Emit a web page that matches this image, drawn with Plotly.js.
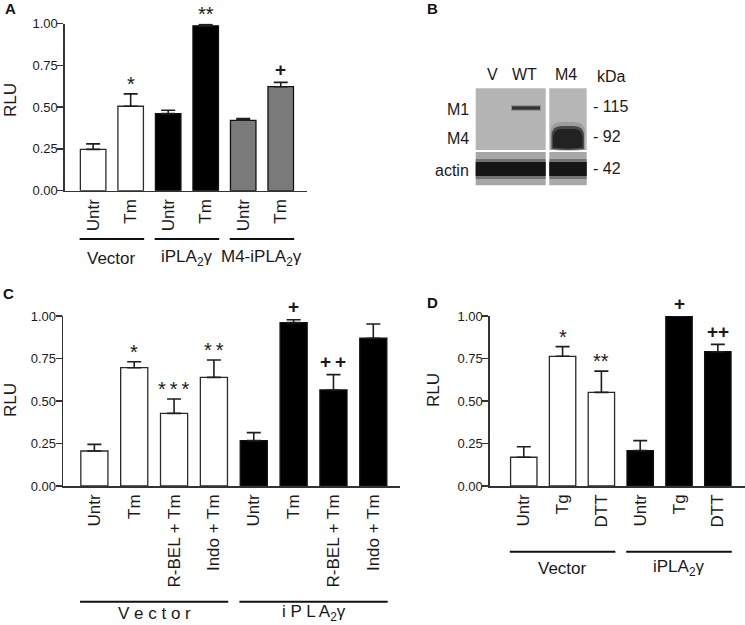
<!DOCTYPE html>
<html><head><meta charset="utf-8">
<script src="https://cdn.plot.ly/plotly-3.0.1.min.js"></script>
<style>html,body{margin:0;padding:0;background:#fff}</style>
</head><body><div id="chart" style="width:745px;height:625px"></div>
<script>
// ---------- data ----------
const A_labels = ['Untr','Tm','Untr','Tm','Untr','Tm'];
const A_values = [0.247, 0.505, 0.461, 0.986, 0.421, 0.622];
const A_sem    = [0.033, 0.074, 0.020, 0.008, 0.010, 0.026];
const A_sig    = ['', '*', '', '**', '', '+'];
const A_fill   = ['#ffffff','#ffffff','#000000','#000000','#7a7a7a','#7a7a7a'];
const A_groups = ['Vector','iPLA<sub>2</sub>γ','M4-iPLA<sub>2</sub>γ'];

const C_labels = ['Untr','Tm','R-BEL + Tm','Indo + Tm','Untr','Tm','R-BEL + Tm','Indo + Tm'];
const C_values = [0.206, 0.696, 0.427, 0.639, 0.267, 0.961, 0.565, 0.869];
const C_sem    = [0.039, 0.035, 0.085, 0.102, 0.047, 0.017, 0.090, 0.084];
const C_sig    = ['', '*', '*\u2009*\u2009*', '*\u2009*', '', '+', '+\u2009+', ''];
const C_fill   = ['#ffffff','#ffffff','#ffffff','#ffffff','#000000','#000000','#000000','#000000'];
const C_groups = ['V e c t o r','i P L A<sub>2</sub>γ'];

const D_labels = ['Untr','Tg','DTT','Untr','Tg','DTT'];
const D_values = [0.169, 0.763, 0.551, 0.208, 1.000, 0.790];
const D_sem    = [0.062, 0.057, 0.125, 0.059, 0.000, 0.043];
const D_sig    = ['', '*', '**', '', '+', '++'];
const D_fill   = ['#ffffff','#ffffff','#ffffff','#000000','#000000','#000000'];
const D_groups = ['Vector','iPLA<sub>2</sub>γ'];

const yTickVals = [0, 0.25, 0.5, 0.75, 1.0];
const yTickText = ['0.00','0.25','0.50','0.75','1.00'];

const blotLanes = ['V','WT','M4'];
const blotRows = ['M1','M4','actin'];
const blotMarkers = ['- 115','- 92','- 42'];

// ---------- helpers ----------
const W = 745, H = 625;
const px = x => x / W;
const py = y => 1 - y / H;
const TXT = '#1a1a1a', AX = '#333333';
const FONT = 'Liberation Sans, Arial, sans-serif';

function barTrace(labels, values, sem, fill, xa, ya) {
  const idx = labels.map((_, i) => i);
  return {
    type: 'bar', x: idx, y: values, xaxis: xa, yaxis: ya, width: 0.68,
    marker: {color: fill, line: {color: fill.map(c => c === '#ffffff' ? '#2b2b2b' : '#111'), width: 1.3}},
    error_y: {type: 'data', symmetric: false, array: sem, arrayminus: sem.map(() => 0),
              color: '#1e1e1e', thickness: 1.6, width: 7},
    showlegend: false, hoverinfo: 'skip'
  };
}

function xAxis(domain, labels, range, anchor) {
  return {domain: domain, range: range, anchor: anchor, showline: true, linecolor: AX, linewidth: 1.6,
    ticks: '', showgrid: false, zeroline: false, tickangle: -90,
    tickvals: labels.map((_, i) => i), ticktext: labels,
    tickfont: {family: FONT, size: 17, color: TXT}, fixedrange: true};
}
function yAxis(domain, anchor) {
  return {domain: domain, anchor: anchor, range: [0, 1], showline: true, linecolor: AX, linewidth: 1.6,
    ticks: 'outside', ticklen: 6, tickwidth: 1.5, tickcolor: AX, showgrid: false, zeroline: false,
    ticklabelstandoff: -3,
    tickvals: yTickVals, ticktext: yTickText, tickfont: {family: FONT, size: 13, color: TXT}, fixedrange: true};
}

const traces = [
  barTrace(A_labels, A_values, A_sem, A_fill, 'x', 'y'),
  barTrace(C_labels, C_values, C_sem, C_fill, 'x2', 'y2'),
  barTrace(D_labels, D_values, D_sem, D_fill, 'x3', 'y3')
];

const annotations = [];
const shapes = [];

function sigAnn(sig, values, sem, xa, ya) {
  sig.forEach((s, i) => {
    if (!s) return;
    const star = s.indexOf('*') >= 0;
    annotations.push({xref: xa, yref: ya, x: i, y: values[i] + sem[i], text: star ? s : '<b>' + s + '</b>',
      showarrow: false, yanchor: 'middle', yshift: star ? 10 : 13,
      font: {family: FONT, size: star ? 20 : 19, color: TXT}});
  });
}
sigAnn(A_sig, A_values, A_sem, 'x', 'y');
sigAnn(C_sig, C_values, C_sem, 'x2', 'y2');
sigAnn(D_sig, D_values, D_sem, 'x3', 'y3');

function groupLines(groups, size, xa, lineY, labelY) {
  groups.forEach((g, k) => {
    const a = k * size, b = a + size - 1;
    shapes.push({type: 'line', xref: xa, yref: 'paper', x0: a - 0.36, x1: b + 0.36,
      y0: py(lineY), y1: py(lineY), line: {color: '#111', width: 2}});
    annotations.push({xref: xa, yref: 'paper', x: (a + b) / 2, y: py(labelY), text: g,
      showarrow: false, yanchor: 'middle', font: {family: FONT, size: 17, color: TXT}});
  });
}
groupLines(A_groups, 2, 'x', 239, 258);
groupLines(C_groups, 4, 'x2', 601.7, 613);
groupLines(D_groups, 3, 'x3', 551.7, 568);

// y titles
[[10, 100], [10, 400], [433, 390]].forEach(p => {
  annotations.push({xref: 'paper', yref: 'paper', x: px(p[0]), y: py(p[1]), text: 'RLU',
    textangle: -90, showarrow: false, xanchor: 'center', yanchor: 'middle',
    font: {family: FONT, size: 17, color: TXT}});
});
// panel letters
[['A', 10, 9], ['B', 432, 9], ['C', 8, 294], ['D', 432, 302]].forEach(p => {
  annotations.push({xref: 'paper', yref: 'paper', x: px(p[1]), y: py(p[2]), text: '<b>' + p[0] + '</b>',
    showarrow: false, xanchor: 'center', yanchor: 'middle', font: {family: FONT, size: 15, color: '#111'}});
});

// ---------- panel B: western blot drawn with shapes ----------
function rect(x0, y0, x1, y1, color, op) {
  shapes.push({type: 'rect', xref: 'paper', yref: 'paper', x0: px(x0), x1: px(x1),
    y0: py(y1), y1: py(y0), fillcolor: color, opacity: op == null ? 1 : op, line: {width: 0}, layer: 'above'});
}
function rrect(x0, y0, x1, y1, r, color, op) {
  const X = v => px(v).toFixed(5), Y = v => py(v).toFixed(5);
  const path = `M${X(x0)},${Y(y1)} L${X(x0)},${Y(y0 + r)} Q${X(x0)},${Y(y0)} ${X(x0 + r)},${Y(y0)} ` +
               `L${X(x1 - r)},${Y(y0)} Q${X(x1)},${Y(y0)} ${X(x1)},${Y(y0 + r)} L${X(x1)},${Y(y1)} ` +
               `Q${X((x0 + x1) / 2)},${Y(y1 + 2)} ${X(x0)},${Y(y1)} Z`;
  shapes.push({type: 'path', xref: 'paper', yref: 'paper', path: path, fillcolor: color,
    opacity: op == null ? 1 : op, line: {width: 0}, layer: 'above'});
}
rect(475.7, 88.3, 545.7, 150, '#b4b4b4');
rect(549.3, 88.3, 586.7, 150, '#b6b6b6');
rect(475.7, 152, 545.7, 185.3, '#a6a6a6');
rect(549.3, 152, 586.7, 185.3, '#a8a8a8');
// M1 band (WT)
rect(511, 105, 541, 111, '#555', 0.35);
rect(512, 106.3, 540, 109.7, '#333');
// M4 blob
rrect(550.5, 122, 585, 150, 11, '#777', 0.4);
rrect(551.5, 126, 584, 149, 10, '#333', 0.8);
rrect(553, 129, 582.5, 147.5, 9, '#222');
// actin bands
[[475.7, 545.7], [549.3, 586.7]].forEach(s => {
  rect(s[0], 159, s[1], 179, '#333', 0.45);
  rect(s[0], 162, s[1], 176, '#151515');
});

// blot text
const laneX = [492.7, 524, 565.7];
blotLanes.forEach((t, i) => annotations.push({xref: 'paper', yref: 'paper', x: px(laneX[i]), y: py(74),
  text: t, showarrow: false, xanchor: 'center', yanchor: 'middle', font: {family: FONT, size: 16, color: TXT}}));
annotations.push({xref: 'paper', yref: 'paper', x: px(595), y: py(76), text: 'kDa', showarrow: false,
  xanchor: 'left', yanchor: 'middle', font: {family: FONT, size: 16, color: TXT}});
const rowY = [110, 139, 170];
blotRows.forEach((t, i) => annotations.push({xref: 'paper', yref: 'paper', x: px(471), y: py(rowY[i]),
  text: t, showarrow: false, xanchor: 'right', yanchor: 'middle', font: {family: FONT, size: 16, color: TXT}}));
const mkY = [106.7, 136.7, 168.3];
blotMarkers.forEach((t, i) => annotations.push({xref: 'paper', yref: 'paper', x: px(591), y: py(mkY[i]),
  text: t, showarrow: false, xanchor: 'left', yanchor: 'middle', font: {family: FONT, size: 16, color: TXT}}));

const layout = {
  width: W, height: H, margin: {l: 0, r: 0, t: 0, b: 0},
  paper_bgcolor: '#ffffff', plot_bgcolor: 'rgba(0,0,0,0)',
  font: {family: FONT, color: TXT}, showlegend: false,
  xaxis:  xAxis([px(65), px(307)], A_labels, [-0.75, 5.7], 'y'),
  yaxis:  yAxis([py(190.7), py(23.5)], 'x'),
  xaxis2: xAxis([px(63.3), px(400)], C_labels, [-0.78, 7.67], 'y2'),
  yaxis2: yAxis([py(486), py(316)], 'x2'),
  xaxis3: xAxis([px(490), px(745)], D_labels, [-0.87, 5.7], 'y3'),
  yaxis3: yAxis([py(486), py(316)], 'x3'),
  annotations: annotations, shapes: shapes
};

Plotly.newPlot('chart', traces, layout, {staticPlot: true, displayModeBar: false});
</script></body></html>
